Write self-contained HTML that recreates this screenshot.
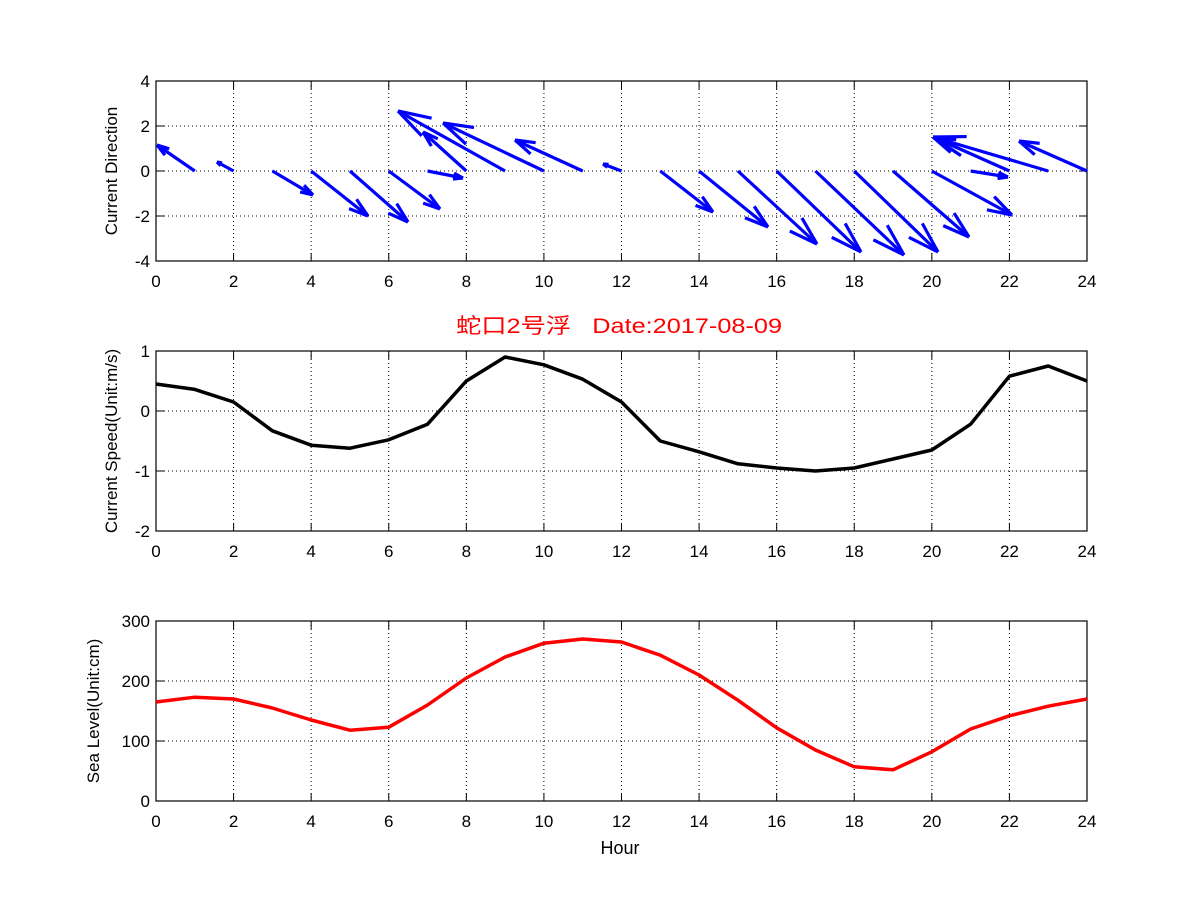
<!DOCTYPE html>
<html><head><meta charset="utf-8"><style>
body{margin:0;background:#fff}
svg text{font-family:"Liberation Sans","Noto Sans CJK SC",sans-serif}
</style></head><body>
<svg id="s" width="1201" height="901" xmlns="http://www.w3.org/2000/svg"></svg>
<script>
const s=document.getElementById('s');
const X0=156,X1=1087,xs=(X1-X0)/24;
const hx=h=>X0+h*xs;
let o='<rect width="1201" height="901" fill="#fff"/>';
function axes(top,bot,yt,ymin,ymax,label){
  const ys=v=>bot-(v-ymin)/(ymax-ymin)*(bot-top);
  for(let h=2;h<24;h+=2)o+=`<line x1="${hx(h)}" y1="${top}" x2="${hx(h)}" y2="${bot}" stroke="#000" stroke-width="1" stroke-dasharray="1,3"/>`;
  yt.forEach(v=>{const y=ys(v);if(v!==ymin&&v!==ymax)o+=`<line x1="${X0}" y1="${y}" x2="${X1}" y2="${y}" stroke="#000" stroke-width="1" stroke-dasharray="1,3"/>`;
    o+=`<line x1="${X0}" y1="${y}" x2="${X0+8}" y2="${y}" stroke="#000"/><line x1="${X1-8}" y1="${y}" x2="${X1}" y2="${y}" stroke="#000"/>`;
    o+=`<text x="${X0-6}" y="${y+6}" font-size="17" text-anchor="end">${v}</text>`;});
  for(let h=0;h<=24;h+=2){o+=`<line x1="${hx(h)}" y1="${bot}" x2="${hx(h)}" y2="${bot-8}" stroke="#000"/><line x1="${hx(h)}" y1="${top}" x2="${hx(h)}" y2="${top+8}" stroke="#000"/>`;
    o+=`<text x="${hx(h)}" y="${bot+26}" font-size="17" text-anchor="middle">${h}</text>`;}
  o+=`<rect x="${X0}" y="${top}" width="${X1-X0}" height="${bot-top}" fill="none" stroke="#000" stroke-width="1.2"/>`;
  const cy=(top+bot)/2;
  o+=`<text transform="translate(${label[1]},${cy}) rotate(-90)" font-size="17" text-anchor="middle">${label[0]}</text>`;
  return ys;
}
axes(81,261,[-4,-2,0,2,4],-4,4,['Current Direction',117]);
const q={1:[157,145],2:[217,162],3:[313,195],4:[368,216],5:[408,222],6:[440,209],7:[463,178],8:[423,132],9:[398,111],10:[443,123],11:[515,140],12:[603,164],
13:[713,212],14:[768,227],15:[817,244],16:[861,252],17:[904,255],18:[938,252],19:[969,237],20:[1012,215],21:[1008,177],22:[933,137],23:[933,137],24:[1019,141]};
for(const h in q){const x0=hx(+h),y0=171,[x1,y1]=q[h];
  const dx=x1-x0,dy=y1-y0,L=Math.hypot(dx,dy),a=Math.atan2(dy,dx),hl=L*0.28,ang=0.3;
  o+=`<line x1="${x0}" y1="${y0}" x2="${x1}" y2="${y1}" stroke="#0000ff" stroke-width="3.2"/>`;
  for(const sg of [-1,1]){const b=a+Math.PI+sg*ang;
    o+=`<line x1="${x1}" y1="${y1}" x2="${x1+hl*Math.cos(b)}" y2="${y1+hl*Math.sin(b)}" stroke="#0000ff" stroke-width="3.2"/>`;}
}
o+=`<text x="456" y="333" font-size="21" fill="#ff0000" textLength="326" lengthAdjust="spacingAndGlyphs">蛇口2号浮 &#160; Date:2017-08-09</text>`;
let ys=axes(351,531,[-2,-1,0,1],-2,1,['Current Speed(Unit:m/s)',117]);
const sp=[0.45,0.36,0.15,-0.33,-0.57,-0.62,-0.48,-0.22,0.5,0.9,0.77,0.53,0.15,-0.5,-0.68,-0.88,-0.95,-1.0,-0.95,-0.8,-0.65,-0.22,0.58,0.75,0.5];
o+=`<polyline fill="none" stroke="#000" stroke-width="3.5" stroke-linejoin="round" points="${sp.map((v,i)=>hx(i)+','+ys(v)).join(' ')}"/>`;
ys=axes(621,801,[0,100,200,300],0,300,['Sea Level(Unit:cm)',99]);
const sl=[165,173,170,155,135,118,123,160,205,240,263,270,265,243,210,168,122,85,57,52,82,120,142,158,170];
o+=`<polyline fill="none" stroke="#ff0000" stroke-width="3.5" stroke-linejoin="round" points="${sl.map((v,i)=>hx(i)+','+ys(v)).join(' ')}"/>`;
o+=`<text x="620" y="854" font-size="18" text-anchor="middle">Hour</text>`;
s.innerHTML=o;
</script>
</body></html>
